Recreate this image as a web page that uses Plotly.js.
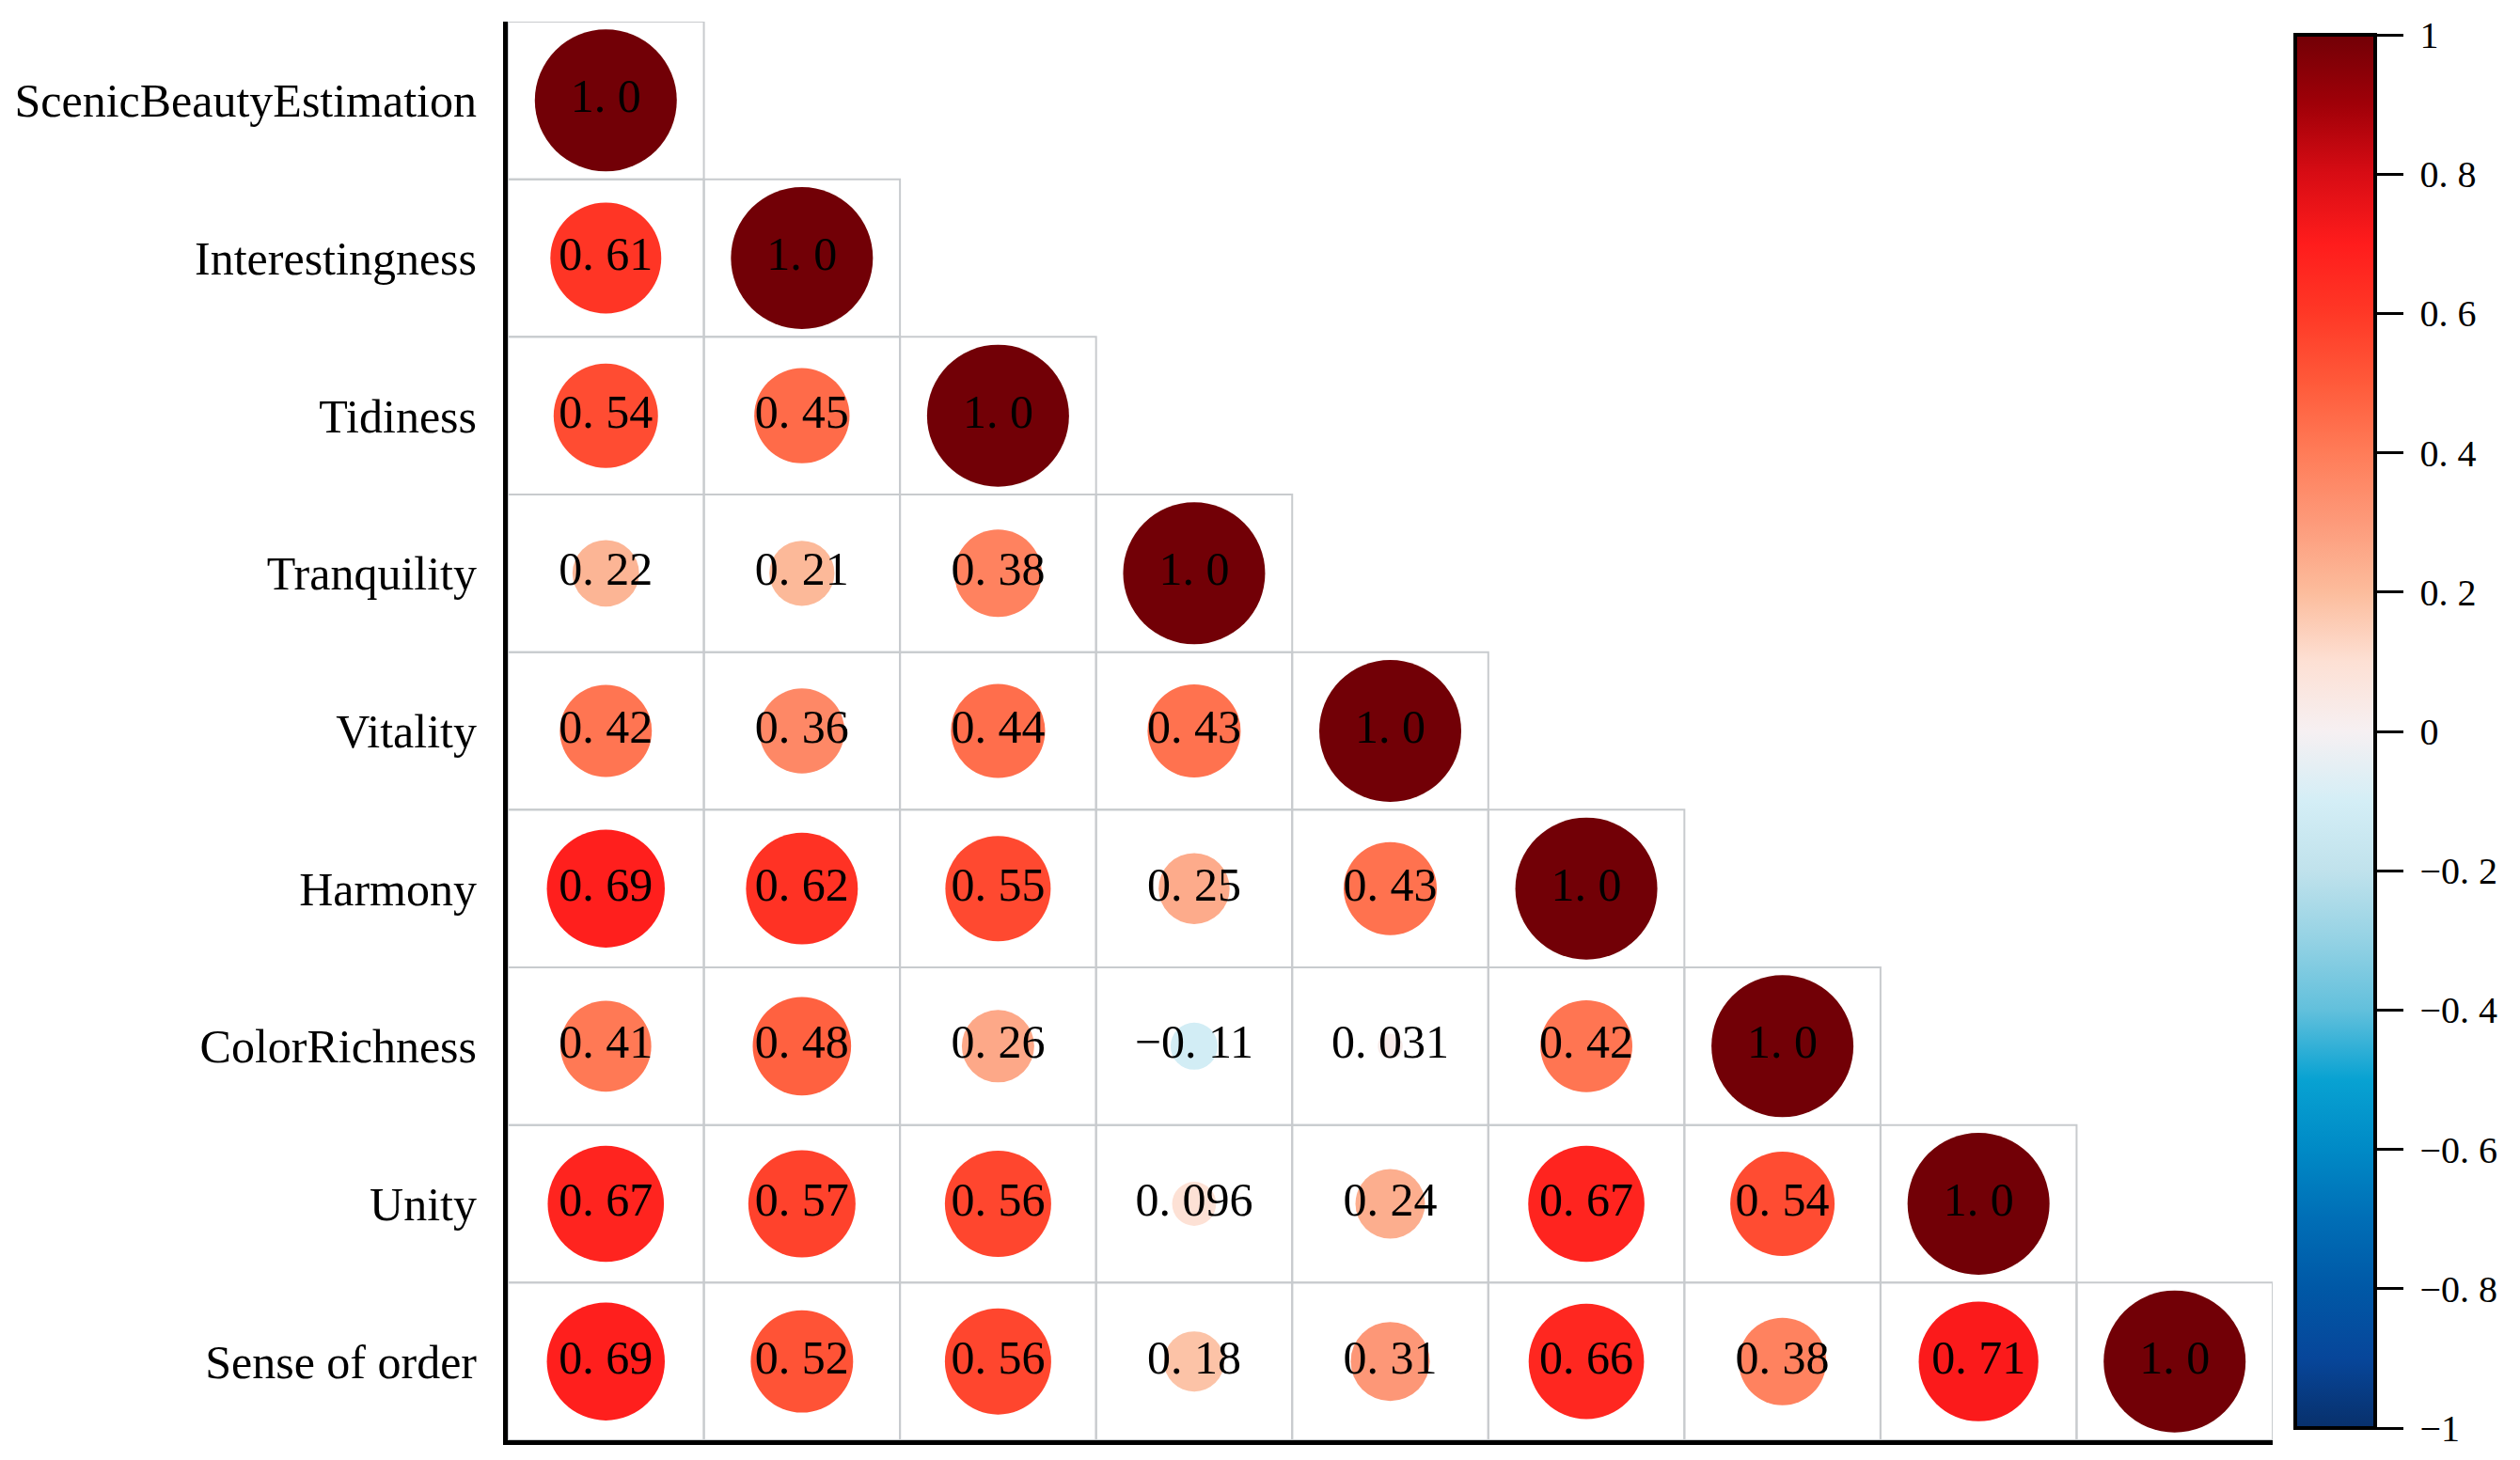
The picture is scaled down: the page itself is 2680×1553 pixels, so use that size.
<!DOCTYPE html>
<html>
<head>
<meta charset="utf-8">
<script src="https://cdn.plot.ly/plotly-3.0.1.min.js"></script>
<style>html,body{margin:0;padding:0;background:#fff;}#chart{width:2680px;height:1553px;}</style>
</head>
<body>
<div id="chart"></div>
<script>
// ---- data ----
var categories = ["ScenicBeautyEstimation", "Interestingness", "Tidiness", "Tranquility", "Vitality", "Harmony", "ColorRichness", "Unity", "Sense of order"];
var rowScenicBeautyEstimation = [1.0];
var rowInterestingness = [0.61, 1.0];
var rowTidiness = [0.54, 0.45, 1.0];
var rowTranquility = [0.22, 0.21, 0.38, 1.0];
var rowVitality = [0.42, 0.36, 0.44, 0.43, 1.0];
var rowHarmony = [0.69, 0.62, 0.55, 0.25, 0.43, 1.0];
var rowColorRichness = [0.41, 0.48, 0.26, -0.11, 0.031, 0.42, 1.0];
var rowUnity = [0.67, 0.57, 0.56, 0.096, 0.24, 0.67, 0.54, 1.0];
var rowSenseOfOrder = [0.69, 0.52, 0.56, 0.18, 0.31, 0.66, 0.38, 0.71, 1.0];
var colorbarTickValues = [-1, -0.8, -0.6, -0.4, -0.2, 0, 0.2, 0.4, 0.6, 0.8, 1];
var colorbarTickLabels = ["\u22121", "\u22120. 8", "\u22120. 6", "\u22120. 4", "\u22120. 2", "0", "0. 2", "0. 4", "0. 6", "0. 8", "1"];

var rows = [rowScenicBeautyEstimation, rowInterestingness, rowTidiness, rowTranquility, rowVitality, rowHarmony, rowColorRichness, rowUnity, rowSenseOfOrder];

// ---- build marks ----
function fmt(v) {
  var s = v.toPrecision(2);
  s = s.replace('-', '\u2212').replace('.', '. ');
  return s;
}
var xs = [], ys = [], vals = [], sizes = [], texts = [];
rows.forEach(function (row, i) {
  row.forEach(function (v, j) {
    xs.push(j); ys.push(i); vals.push(v); sizes.push(Math.abs(v)); texts.push(fmt(v));
  });
});

var shapes = [];
rows.forEach(function (row, i) {
  row.forEach(function (v, j) {
    shapes.push({type: 'rect', xref: 'x', yref: 'y', x0: j - 0.5, x1: j + 0.5, y0: i - 0.5, y1: i + 0.5,
      line: {color: '#c8cbce', width: 2}, fillcolor: 'rgba(0,0,0,0)', layer: 'below'});
  });
});

var colorscale = [
  [0.00, '#08306b'], [0.05, '#07469a'], [0.10, '#0058a6'], [0.15, '#006eb6'], [0.20, '#008ac6'],
  [0.25, '#08a2d2'], [0.30, '#62c0dc'], [0.35, '#94d2e4'], [0.40, '#c0e2ec'], [0.45, '#d4eef6'],
  [0.50, '#f6f0f2'], [0.55, '#fde0d4'], [0.60, '#fcbc9c'], [0.65, '#fd9a7a'], [0.70, '#ff7c58'],
  [0.75, '#ff5a3a'], [0.80, '#ff3826'], [0.85, '#ff1c1c'], [0.90, '#d80c14'], [0.95, '#a00008'], [1.00, '#720006']
];

var W = 2680, H = 1553;
var mL = 540, mR = W - 2417, mT = 23, mB = H - 1532;
var plotH = H - mT - mB;
var serif = 'Liberation Serif, Times New Roman, serif';

var trace = {
  type: 'scatter', mode: 'markers+text', x: xs, y: ys, text: texts,
  textposition: 'middle center',
  textfont: {family: serif, size: 50, color: '#000'},
  hoverinfo: 'skip', cliponaxis: false,
  marker: {
    size: sizes, sizemode: 'area', sizeref: 2 / (151 * 151), sizemin: 0,
    color: vals, cmin: -1, cmax: 1, colorscale: colorscale, line: {width: 0}, opacity: 1,
    colorbar: {
      x: (2441 - mL) / (W - mL - mR), xanchor: 'left', xpad: 0,
      y: (1532 - 37) / plotH, yanchor: 'top', ypad: 0,
      len: 1482, lenmode: 'pixels', thickness: 85, thicknessmode: 'pixels',
      outlinewidth: 4, outlinecolor: '#000',
      tickmode: 'array', tickvals: colorbarTickValues,
      ticktext: colorbarTickLabels.map(function (t) { return '\u00a0' + t; }),
      ticks: 'outside', ticklen: 28, tickwidth: 3, tickcolor: '#000',
      tickfont: {family: serif, size: 40, color: '#000'}
    }
  }
};

var layout = {
  width: W, height: H, paper_bgcolor: '#fff', plot_bgcolor: '#fff',
  margin: {l: mL, r: mR, t: mT, b: mB, pad: 0},
  showlegend: false,
  xaxis: {range: [-0.5, 8.5], showgrid: false, zeroline: false, showticklabels: false, ticks: '',
    showline: true, linecolor: '#000', linewidth: 5, fixedrange: true},
  yaxis: {range: [8.5, -0.5], showgrid: false, zeroline: false, tickmode: 'array',
    tickvals: categories.map(function (c, i) { return i; }), ticktext: categories, ticks: '',
    ticklabelstandoff: 18,
    tickfont: {family: serif, size: 50, color: '#000'},
    showline: true, linecolor: '#000', linewidth: 5, fixedrange: true},
  shapes: shapes
};

Plotly.newPlot('chart', [trace], layout, {displayModeBar: false, staticPlot: true});
</script>
</body>
</html>
